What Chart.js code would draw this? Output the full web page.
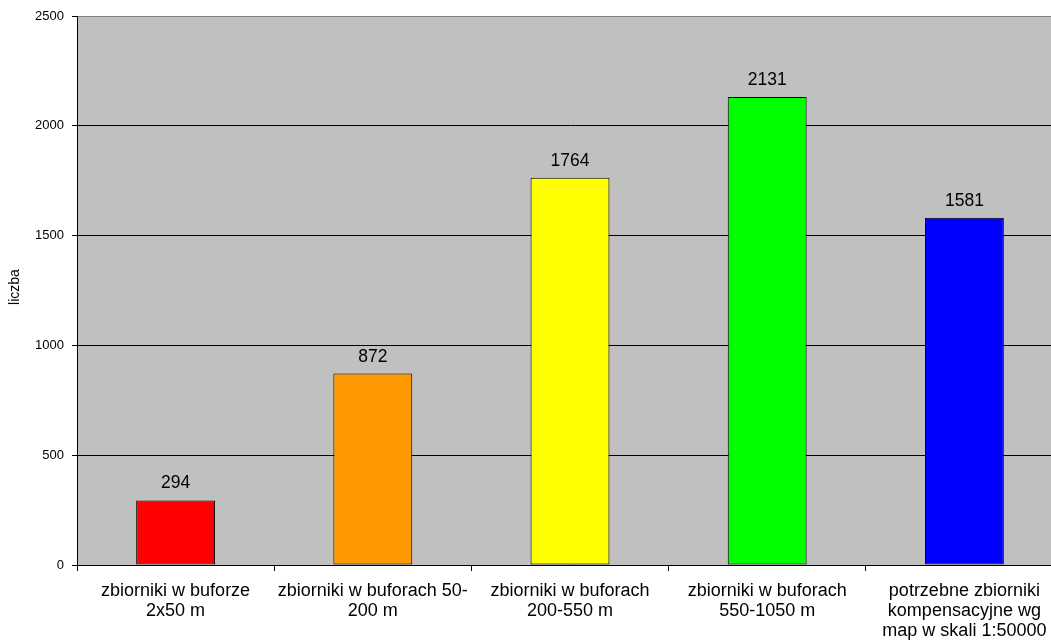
<!DOCTYPE html>
<html>
<head>
<meta charset="utf-8">
<script src="https://cdn.jsdelivr.net/npm/chart.js@4"></script>
<style>
html,body{margin:0;padding:0;background:#fff;overflow:hidden;}
#wrap{width:1075px;height:643px;}
</style>
</head>
<body>
<div id="wrap"><canvas id="c" width="1075" height="643"></canvas></div>
<script>
const categories = [
  ["zbiorniki w buforze", "2x50 m"],
  ["zbiorniki w buforach 50-", "200 m"],
  ["zbiorniki w buforach", "200-550 m"],
  ["zbiorniki w buforach", "550-1050 m"],
  ["potrzebne zbiorniki", "kompensacyjne wg", "map w skali 1:50000"]
];
const values = [294, 872, 1764, 2131, 1581];
const barColors = ["#FF0000", "#FF9900", "#FFFF00", "#00FF00", "#0000FF"];
const yTicks = [0, 500, 1000, 1500, 2000, 2500];
const yTitle = "liczba";

const FONT = "'Liberation Sans', Arial, sans-serif";

const bgPlugin = {
  id: 'bg',
  beforeDraw(chart) {
    const a = chart.chartArea, ctx = chart.ctx;
    ctx.save();
    ctx.fillStyle = '#C0C0C0';
    ctx.fillRect(a.left, a.top, a.right - a.left, a.bottom - a.top);
    ctx.restore();
  }
};

const labelPlugin = {
  id: 'vlabels',
  afterDatasetsDraw(chart) {
    const ctx = chart.ctx;
    const meta = chart.getDatasetMeta(0);
    ctx.save();
    ctx.font = "17.5px " + FONT;
    ctx.fillStyle = '#000';
    ctx.textAlign = 'center';
    ctx.textBaseline = 'alphabetic';
    meta.data.forEach((el, i) => {
      ctx.fillText(String(values[i]), el.x, el.y - 12);
    });
    ctx.restore();
  }
};

const titlePlugin = {
  id: 'ytitle',
  afterDraw(chart) {
    const ctx = chart.ctx;
    ctx.save();
    ctx.translate(15, 287);
    ctx.rotate(-Math.PI / 2);
    ctx.font = "14px " + FONT;
    ctx.fillStyle = '#000';
    ctx.textAlign = 'center';
    ctx.textBaseline = 'middle';
    ctx.fillText(yTitle, 0, 0);
    ctx.restore();
  }
};

new Chart(document.getElementById('c'), {
  type: 'bar',
  data: {
    labels: categories,
    datasets: [{
      data: values,
      backgroundColor: barColors,
      borderColor: '#000',
      borderWidth: 1,
      borderSkipped: false,
      categoryPercentage: 1.0,
      barPercentage: 0.4
    }]
  },
  options: {
    responsive: false,
    animation: false,
    events: [],
    layout: { padding: { top: 16, right: 12, left: 0, bottom: 0 } },
    plugins: { legend: { display: false }, tooltip: { enabled: false } },
    scales: {
      x: {
        offset: true,
        grid: {
          offset: true,
          drawOnChartArea: false,
          drawTicks: true,
          tickLength: 6,
          tickColor: '#000'
        },
        border: { color: '#000', width: 1 },
        ticks: {
          color: '#000',
          font: { family: FONT, size: 18, lineHeight: 1.12 },
          padding: 10,
          maxRotation: 0,
          autoSkip: false
        },
        afterFit(scale) { scale.height = 78; }
      },
      y: {
        min: 0,
        max: 2500,
        afterBuildTicks(scale) { scale.ticks = yTicks.map(v => ({ value: v })); },
        grid: {
          color: ctx => (ctx.tick && ctx.tick.value === 2500) ? '#808080' : '#000',
          tickColor: '#000',
          tickLength: 5,
          lineWidth: 1
        },
        border: { color: '#000', width: 1 },
        ticks: {
          color: '#000',
          font: { family: FONT, size: 13 },
          padding: 8,
          callback: v => String(v)
        },
        afterFit(scale) { scale.width = 77; }
      }
    }
  },
  plugins: [bgPlugin, labelPlugin, titlePlugin]
});
</script>
</body>
</html>
